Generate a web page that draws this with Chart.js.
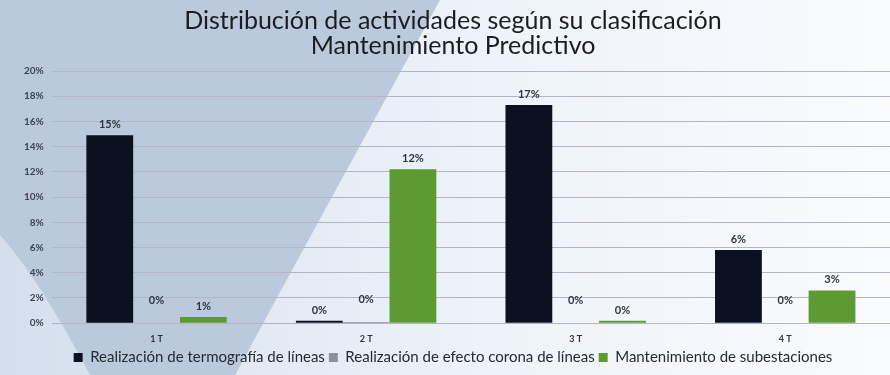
<!DOCTYPE html>
<html>
<head>
<meta charset="utf-8">
<script src="https://cdn.jsdelivr.net/npm/chart.js@4.4.0/dist/chart.umd.min.js"></script>
<style>
  html, body { margin: 0; padding: 0; background: #e9eff6; }
  #wrap { width: 890px; height: 375px; }
</style>
</head>
<body>
<div id="wrap"><canvas id="chart" width="890" height="375"></canvas></div>
<script>
// trimestres y porcentajes por actividad
const trimestres = ['1 T', '2 T', '3 T', '4 T'];
const termografia = [14.9, 0.2, 17.3, 5.8];
const efectoCorona = [0, 0.1, 0, 0];
const subestaciones = [0.5, 12.2, 0.2, 2.6];
const ticksY = [0, 2, 4, 6, 8, 10, 12, 14, 16, 18, 20];

// fondo con la forma azulada de la diapositiva
const fondo = {
  id: 'fondo',
  beforeDraw(chart) {
    const ctx = chart.ctx;
    const w = chart.width, h = chart.height;
    ctx.save();
    const g = ctx.createLinearGradient(0, 0, w, 0);
    g.addColorStop(0, '#d4dfed');
    g.addColorStop(0.55, '#eef3f9');
    g.addColorStop(1, '#f9fbfd');
    ctx.fillStyle = g;
    ctx.fillRect(0, 0, w, h);
    ctx.beginPath();
    ctx.moveTo(0, 0);
    ctx.lineTo(440, 0);
    ctx.quadraticCurveTo(330, 200, 235, h);
    ctx.lineTo(90, h);
    ctx.quadraticCurveTo(40, 280, 0, 235);
    ctx.closePath();
    ctx.fillStyle = '#bac9dc';
    ctx.fill();
    ctx.restore();
  }
};

// etiquetas de porcentaje sobre cada barra
const etiquetas = {
  id: 'etiquetas',
  afterDatasetsDraw(chart) {
    const ctx = chart.ctx;
    ctx.save();
    ctx.font = 'bold 11px Lato';
    ctx.fillStyle = '#2f3540';
    ctx.textAlign = 'center';
    ctx.textBaseline = 'bottom';
    chart.data.datasets.forEach((ds, i) => {
      const meta = chart.getDatasetMeta(i);
      meta.data.forEach((bar, j) => {
        const extra = i === 1 ? 12 : 0;
        ctx.fillText(Math.round(ds.data[j]) + '%', bar.x, bar.y - 5 - extra);
      });
    });
    ctx.restore();
  }
};

new Chart(document.getElementById('chart'), {
  type: 'bar',
  data: {
    labels: trimestres,
    datasets: [
      { label: 'Realización de termografía de líneas', data: termografia, backgroundColor: '#0b1120' },
      { label: 'Realización de efecto corona de líneas', data: efectoCorona, backgroundColor: '#8b919c' },
      { label: 'Mantenimiento de subestaciones', data: subestaciones, backgroundColor: '#5e9a32' }
    ]
  },
  options: {
    responsive: false,
    animation: false,
    layout: { padding: { left: 16, right: 0, top: 2, bottom: 0 } },
    datasets: { bar: { categoryPercentage: 0.67, barPercentage: 1 } },
    plugins: {
      title: {
        display: true,
        text: ['Distribución de actividades según su clasificación', 'Mantenimiento Predictivo'],
        font: { family: 'Lato', size: 25, weight: 'normal', lineHeight: 1.0 },
        color: '#1a1d22',
        padding: { top: 6, bottom: 13 }
      },
      legend: {
        position: 'bottom',
        labels: {
          font: { family: 'Lato', size: 15 },
          color: '#262b33',
          boxWidth: 9,
          boxHeight: 9,
          padding: 4
        }
      },
      tooltip: { enabled: false }
    },
    scales: {
      x: {
        grid: { display: false },
        border: { display: false },
        ticks: { color: '#333', font: { family: 'Lato', size: 9, weight: 'bold' }, padding: 2 }
      },
      y: {
        min: 0,
        max: 20,
        afterBuildTicks(axis) { axis.ticks = ticksY.map(v => ({ value: v })); },
        grid: { color: '#b3b4c4', drawTicks: false },
        border: { display: false },
        ticks: {
          color: '#3d4350',
          font: { family: 'Lato', size: 10, weight: 'bold' },
          padding: 8,
          callback: v => v + '%'
        }
      }
    }
  },
  plugins: [fondo, etiquetas]
});
</script>
</body>
</html>
